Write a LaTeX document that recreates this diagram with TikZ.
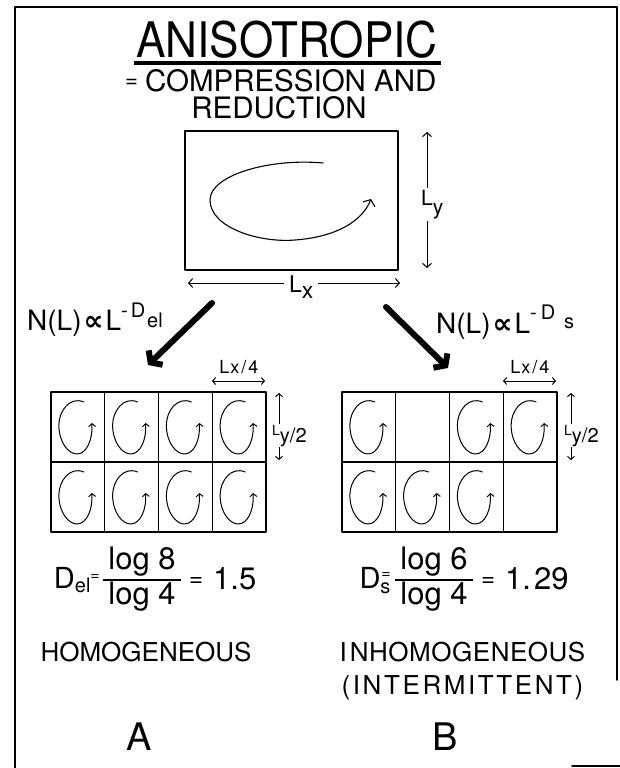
\documentclass[tikz,border=0pt]{standalone}
\usepackage{fontspec}
\setmainfont{TeX Gyre Heros}
\newfontfamily\narrowfont{TeX Gyre Heros}[FakeStretch=0.9]
\newfontfamily\symfont{DejaVu Sans}
\usetikzlibrary{positioning,arrows.meta}

\newcommand{\fsz}[2]{\fontsize{#1}{#2}\selectfont}
% one small eddy inside a grid cell
\newcommand{\eddy}[1]{%
  \begin{scope}[shift={(#1.center)}]
    \draw[eddyline] (6,-25) .. controls (-8,-31) and (-19,-16) .. (-19,-2)
      .. controls (-19,16) and (-9,27) .. (-1,27)
      .. controls (9,27) and (15,12) .. (14,-4);
  \end{scope}}

\begin{document}
\begin{tikzpicture}[x=1pt, y=-1pt, line cap=round, line join=round,
    frame/.style={line width=1.5pt},
    cell/.style={draw, line width=1.2pt, minimum width=53.75pt, minimum height=70pt,
      inner sep=0pt, outer sep=0pt},
    eddyline/.style={line width=1pt, -{Straight Barb[length=3pt,width=7pt]}},
    dimarrow/.style={line width=1pt, {Straight Barb[length=4pt,width=9pt]}-{Straight Barb[length=4pt,width=9pt]}},
    dimsmall/.style={line width=1pt, {Straight Barb[length=3pt,width=7pt]}-{Straight Barb[length=3pt,width=7pt]}},
    bigarrow/.style={line width=6pt, -{Straight Barb[length=7pt,width=20pt]}},
    lbl/.style={inner sep=1pt, fill=white}]
  \useasboundingbox (0,0) rectangle (620,768);
  % frame
  \draw[frame] (15,768) -- (15,7) -- (617,7) -- (617,680);
  \draw[frame] (572,766) -- (620,766);
  % title
  \node[font=\narrowfont\fsz{49}{52}] (title) at (287,39.5) {ANISOTROPIC};
  \draw[line width=4pt, line cap=butt] (134,63) -- (441,63);
  \node[anchor=base west, font=\fsz{29.5}{32}, inner sep=0pt] (sub) at (125,92)
    {\raisebox{4pt}{\fsz{22}{22}=}\hspace{7pt}COMPRESSION AND};
  \node[font=\fsz{29.5}{32}, inner sep=0pt] (red) at (279,108) {REDUCTION};
  % large box
  \node[draw, line width=1.3pt, minimum width=213pt, minimum height=139pt,
    inner sep=0pt] (box) at (291.5,200.5) {};
  \draw[line width=1.1pt, -{Straight Barb[length=5pt,width=13pt]}]
    (323,163) .. controls (270,158) and (210,175) .. (210,200)
    .. controls (210,228) and (260,243) .. (295,240)
    .. controls (335,237) and (362,222) .. (371,199);
  \coordinate (LyT) at (427,132); \coordinate (LyB) at (427,268);
  \draw[dimarrow] (LyT) -- (LyB);
  \node[lbl, anchor=base west, inner sep=2pt, font=\fsz{21}{21}] (Ly) at (419,205) {L\raisebox{-9pt}{y}};
  \coordinate (LxL) at (188,283); \coordinate (LxR) at (400,283);
  \draw[dimarrow] (LxL) -- (LxR);
  \node[lbl, anchor=base west, inner xsep=5pt, font=\fsz{23}{23}] (Lx) at (284,292) {L\raisebox{-6pt}{x}};
  % thick arrows
  \coordinate (armA) at (212,303); \coordinate (tipA) at (148,365);
  \draw[bigarrow] (armA) -- (tipA);
  \coordinate (armB) at (386,307); \coordinate (tipB) at (448,368);
  \draw[bigarrow] (armB) -- (tipB);
  % scaling laws
  \node[anchor=base west, font=\fsz{28}{30}, inner sep=0pt] (lawA) at (27,330)
    {N(L)\kern2pt{\symfont\bfseries ∝}\kern2pt L\raisebox{13pt}{\fsz{20}{20}-\kern3pt D}\kern2pt\raisebox{3pt}{\fsz{20}{20}el}};
  \node[anchor=base west, font=\fsz{28}{30}, inner sep=0pt] (lawB) at (436,333)
    {N(L)\kern2pt{\symfont\bfseries ∝}\kern2pt L\raisebox{14pt}{\fsz{20}{20}-\kern4pt D}\kern9pt\raisebox{5pt}{\fsz{20}{20}s}};
  % grids
  \foreach \i in {0,...,3}
    \foreach \j in {0,1} {
      \node[cell] (cA-\i-\j) at ({77.875+53.75*\i},{427+70*\j}) {};
      \node[cell] (cB-\i-\j) at ({368.875+53.75*\i},{427+70*\j}) {};
    }
  \foreach \i in {0,...,3}
    \foreach \j in {0,1} {\eddy{cA-\i-\j}}
  \foreach \cl in {0-0,2-0,3-0,0-1,1-1,2-1} {\eddy{cB-\cl}}
  % cell sizes
  \coordinate (qAL) at (212,381); \coordinate (qAR) at (265,381);
  \draw[dimsmall] (qAL) -- (qAR);
  \node[anchor=base, font=\fsz{18}{18}] (LqA) at (239,373) {L\kern1pt x\kern2pt/\kern2pt4};
  \coordinate (hAT) at (279,393); \coordinate (hAB) at (279,460);
  \draw[dimsmall] (hAT) -- (hAB);
  \node[lbl, anchor=base west, font=\fsz{20}{20}] (LhA) at (271,435) {{\fsz{14}{14}L}\raisebox{-7pt}{y/2}};
  \coordinate (qBL) at (503,381); \coordinate (qBR) at (556,381);
  \draw[dimsmall] (qBL) -- (qBR);
  \node[anchor=base, font=\fsz{18}{18}] (LqB) at (530,373) {L\kern1pt x\kern2pt/\kern2pt4};
  \coordinate (hBT) at (571,393); \coordinate (hBB) at (571,460);
  \draw[dimsmall] (hBT) -- (hBB);
  \node[lbl, anchor=base west, font=\fsz{20}{20}] (LhB) at (563,435) {{\fsz{14}{14}L}\raisebox{-7pt}{y/2}};
  % dimensions
  \node[font=\fsz{31}{34}, inner sep=0pt] (fracA) at (142,580)
    {\setlength{\arrayrulewidth}{1.3pt}\begin{tabular}{@{}c@{}}\,log 8\,\\\hline \,log 4\,\end{tabular}};
  \node[anchor=base east, font=\fsz{29}{32}, inner sep=0pt] (DA) at ([xshift=-3pt,yshift=-8pt]fracA.west)
    {D\raisebox{-4pt}{\fsz{20}{20}el}\raisebox{8pt}{\fsz{16}{16}=}};
  \node[anchor=base west, font=\fsz{31}{34}, inner sep=0pt] (valA) at ([xshift=8pt,yshift=-9pt]fracA.east)
    {\raisebox{3pt}{\fsz{24}{24}=}\kern10pt1.5};
  \node[font=\fsz{31}{34}, inner sep=0pt] (fracB) at (434,580)
    {\setlength{\arrayrulewidth}{1.3pt}\begin{tabular}{@{}c@{}}\,log 6\,\\\hline \,log 4\,\end{tabular}};
  \node[anchor=base east, font=\fsz{29}{32}, inner sep=0pt] (DB) at ([xshift=-4pt,yshift=-8pt]fracB.west)
    {D\raisebox{-5pt}{\fsz{20}{20}s}\kern-9pt\raisebox{10pt}{\fsz{16}{16}=}};
  \node[anchor=base west, font=\fsz{31}{34}, inner sep=0pt] (valB) at ([xshift=8pt,yshift=-9pt]fracB.east)
    {\raisebox{3pt}{\fsz{24}{24}=}\kern10pt1.\kern3pt29};
  % captions
  \node[font=\fsz{26}{30}] (homA) at (146,652.5) {HOMOGENEOUS};
  \node[font=\fsz{26}{30}\addfontfeature{LetterSpace=2}] (inhB) at (462.5,652.5) {I\kern3pt NHOMOGENEOUS};
  \node[font=\fsz{26}{30}\addfontfeature{LetterSpace=10}] (intB) at (462.5,688) {(INTERMITTENT)};
  \node[font=\fsz{38}{40}] (A) at (139,736.5) {A};
  \node[font=\fsz{38}{40}] (B) at (445.5,736.5) {B};
\end{tikzpicture}
\end{document}
